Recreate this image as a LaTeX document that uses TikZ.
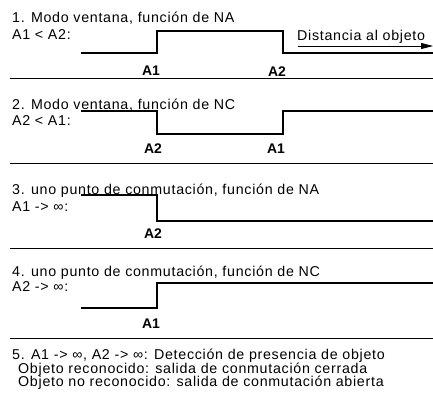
\documentclass[tikz,border=0pt]{standalone}
\usepackage{fontspec}
\setmainfont{Liberation Sans}[LetterSpace=5]
\newfontfamily\lblfont{Liberation Sans}
\usetikzlibrary{arrows.meta}
\newcommand\mytightlines{\lineskiplimit=-30pt\relax\lineskip=0pt\relax}
\begin{document}
\begin{tikzpicture}[x=1bp,y=-1bp,
  txt/.style={anchor=base west, inner sep=0pt, font=\fontsize{14.3}{17}\selectfont},
  lbl/.style={anchor=base, inner sep=0pt, font=\lblfont\fontsize{14}{16}\selectfont\bfseries},
  sig/.style={line width=2bp},
  sep/.style={line width=1bp},
  axis/.style={line width=0.8bp, -{Triangle[length=12bp,width=6bp]}}]
\useasboundingbox (0,0) rectangle (433,406);
% 1
\node[txt] (t1) at (12,22) {1. Modo ventana, función de NA};
\node[txt] (c1) at (12,39.5) {A1 < A2:};
\node[txt] (d1) at (297,40) {Distancia al objeto};
\coordinate (a1s) at (298,46);
\coordinate (a1e) at (433,46);
\draw[axis] (a1s) -- (a1e);
\draw[sig] (81,53) -| (157,31) -| (283,53) -- (433,53);
\node[lbl] (l1a) at (151,75) {A1};
\node[lbl] (l1b) at (277,76) {A2};
\draw[sep] (10,78) -- (433,78);
% 2
\node[txt] (t2) at (12,109) {2. Modo ventana, función de NC};
\node[txt] (c2) at (12,125) {A2 < A1:};
\draw[sig] (81,111) -| (157,134) -| (283,111) -- (433,111);
\node[lbl] (l2a) at (153,153) {A2};
\node[lbl] (l2b) at (276,153) {A1};
\draw[sep] (10,163) -- (433,163);
% 3
\node[txt] (t3) at (12,194) {3. uno punto de conmutación, función de NA};
\node[txt] (c3) at (12,211.5) {A1 -> ∞:};
\draw[sig] (81,195) -| (157,221) -- (433,221);
\node[lbl] (l3a) at (153,238) {A2};
\draw[sep] (10,248) -- (433,248);
% 4
\node[txt] (t4) at (12,276.5) {4. uno punto de conmutación, función de NC};
\node[txt] (c4) at (12,291.5) {A2 -> ∞:};
\draw[sig] (81,308) -| (157,283) -- (433,283);
\node[lbl] (l4a) at (151,328) {A1};
\draw[sep] (10,338) -- (433,338);
% 5
\node[txt, align=left, font=\fontsize{14.3}{13.5}\selectfont\mytightlines] (n1) at (12,386.5)
  {5. A1 -> ∞, A2 -> ∞: Detección de presencia de objeto\\
   \hspace*{6bp}Objeto reconocido: salida de conmutación cerrada\\
   \hspace*{6bp}Objeto no reconocido: salida de conmutación abierta};
\end{tikzpicture}
\end{document}
